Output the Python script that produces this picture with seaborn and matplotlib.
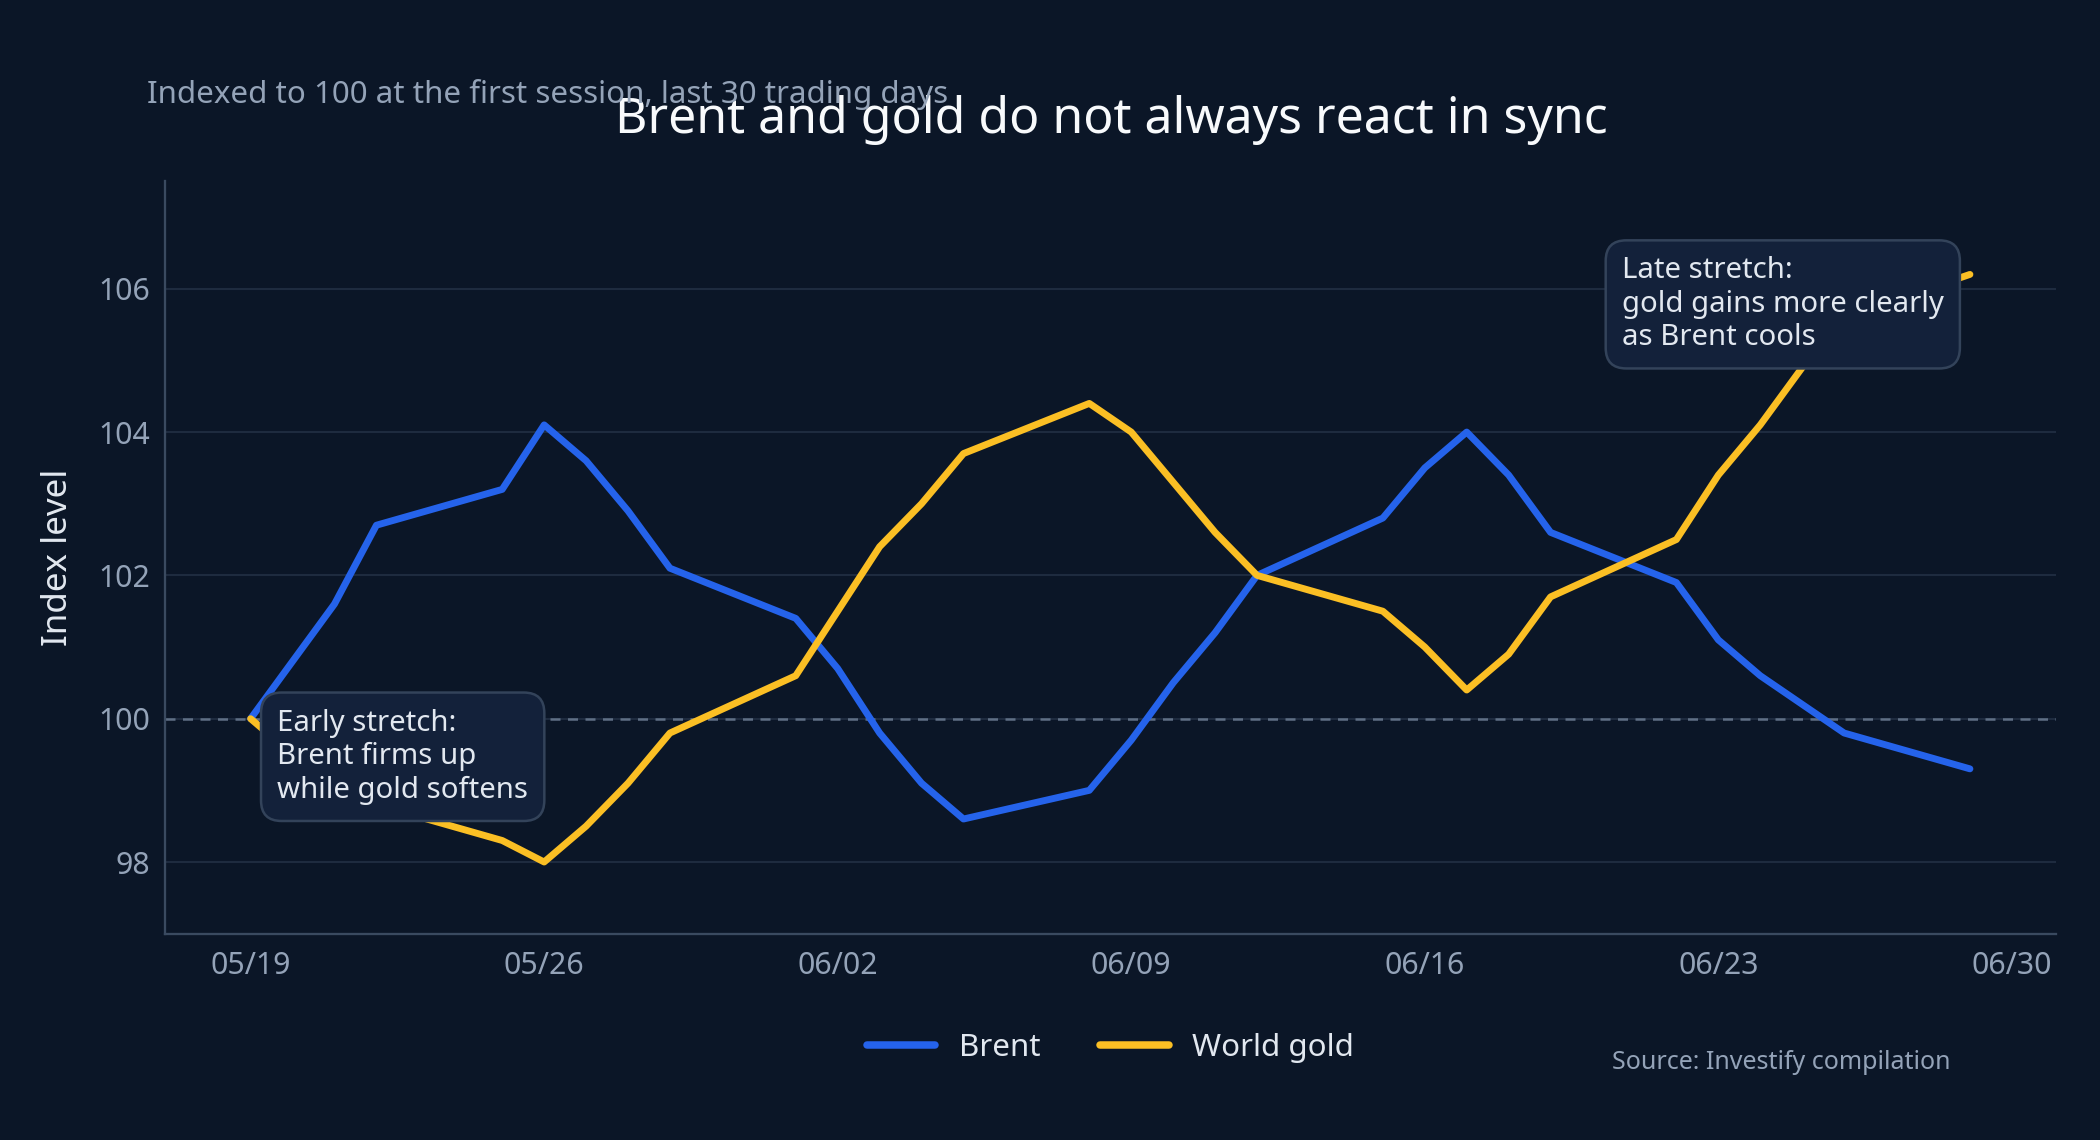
import pandas as pd
import numpy as np
import matplotlib
matplotlib.use("Agg")
import matplotlib.pyplot as plt
import matplotlib.dates as mdates
from matplotlib.lines import Line2D
import seaborn as sns

# 30 trading days, indexed to 100 at the first session
dates = pd.bdate_range("2026-05-19", periods=30)
brent = [100.0, 100.8, 101.6, 102.7, 103.2, 104.1, 103.6, 102.9, 102.1, 101.4,
         100.7, 99.8, 99.1, 98.6, 99.0, 99.7, 100.5, 101.2, 102.0, 102.8,
         103.5, 104.0, 103.4, 102.6, 101.9, 101.1, 100.6, 100.2, 99.8, 99.3]
gold = [100.0, 99.5, 99.1, 98.8, 98.3, 98.0, 98.5, 99.1, 99.8, 100.6,
        101.5, 102.4, 103.0, 103.7, 104.4, 104.0, 103.3, 102.6, 102.0, 101.5,
        101.0, 100.4, 100.9, 101.7, 102.5, 103.4, 104.1, 104.9, 105.6, 106.2]
series_names = ["Brent", "World gold"]
y_ticks = [98, 100, 102, 104, 106]

BG = "#0b1627"
MUTED = "#94a3b8"
LIGHT = "#e2e8f0"
palette = {"Brent": "#2563eb", "World gold": "#fbbf24"}

df = pd.DataFrame({"date": dates, "Brent": brent, "World gold": gold})
df = df.melt(id_vars="date", var_name="series", value_name="level")

sns.set_theme(style="dark", rc={"axes.facecolor": BG, "figure.facecolor": BG})
plt.rcParams["font.family"] = ["Noto Sans", "DejaVu Sans"]

fig = plt.figure(figsize=(14, 7.6), dpi=150, facecolor=BG)
ax = fig.add_axes([0.0784, 0.181, 0.9006, 0.66])
ax.set_facecolor(BG)

ax.axhline(100, color="#5f6f85", lw=1.2, ls=(0, (4, 3)), zorder=1)
sns.lineplot(data=df, x="date", y="level", hue="series", hue_order=series_names,
             palette=palette, linewidth=3.3, ax=ax, legend=False, zorder=3)

ax.set_ylim(97, 107.5)
ax.set_yticks(y_ticks)
ax.xaxis.set_major_locator(mdates.WeekdayLocator(byweekday=mdates.TU))
ax.xaxis.set_major_formatter(mdates.DateFormatter("%m/%d"))

ax.grid(axis="y", color="#1e2b3f", lw=1.0)
ax.grid(axis="x", visible=False)
for side in ["top", "right"]:
    ax.spines[side].set_visible(False)
for side in ["left", "bottom"]:
    ax.spines[side].set_color("#3a4a60")
    ax.spines[side].set_linewidth(1.1)

ax.tick_params(axis="both", colors="#52627a", labelcolor=MUTED, labelsize=14.5,
               length=3.5, width=1, pad=3.5)
ax.tick_params(axis="x", pad=5)
ax.set_xlabel("")
ax.set_ylabel("Index level", fontsize=16.8, color=LIGHT, labelpad=11)

box = dict(boxstyle="round,pad=0.55,rounding_size=0.7", fc="#13213a",
           ec="#33435a", lw=1.2)
ax.text(0.0595, 0.299, "Early stretch:\nBrent firms up\nwhile gold softens",
        transform=ax.transAxes, ha="left", va="top", fontsize=14.1,
        color=LIGHT, bbox=box, zorder=5, linespacing=1.2)
ax.text(0.7705, 0.900, "Late stretch:\ngold gains more clearly\nas Brent cools",
        transform=ax.transAxes, ha="left", va="top", fontsize=14.1,
        color=LIGHT, bbox=box, zorder=5, linespacing=1.2)

handles = [Line2D([0], [0], color=palette[n], lw=3.6) for n in series_names]
ax.legend(handles, series_names, loc="center", bbox_to_anchor=(0.5, -0.152),
          ncol=2, frameon=False, fontsize=15, labelcolor=LIGHT,
          handlelength=2.2, handletextpad=0.75, columnspacing=1.9)

fig.text(0.529, 0.895, "Brent and gold do not always react in sync",
         ha="center", va="center", fontsize=24, color="#f8fafc")
fig.text(0.0702, 0.917, "Indexed to 100 at the first session, last 30 trading days",
         ha="left", va="center", fontsize=15, color=MUTED)
fig.text(0.929, 0.068, "Source: Investify compilation",
         ha="right", va="center", fontsize=12, color=MUTED)

fig.savefig("out.png", dpi=150, facecolor=BG)
